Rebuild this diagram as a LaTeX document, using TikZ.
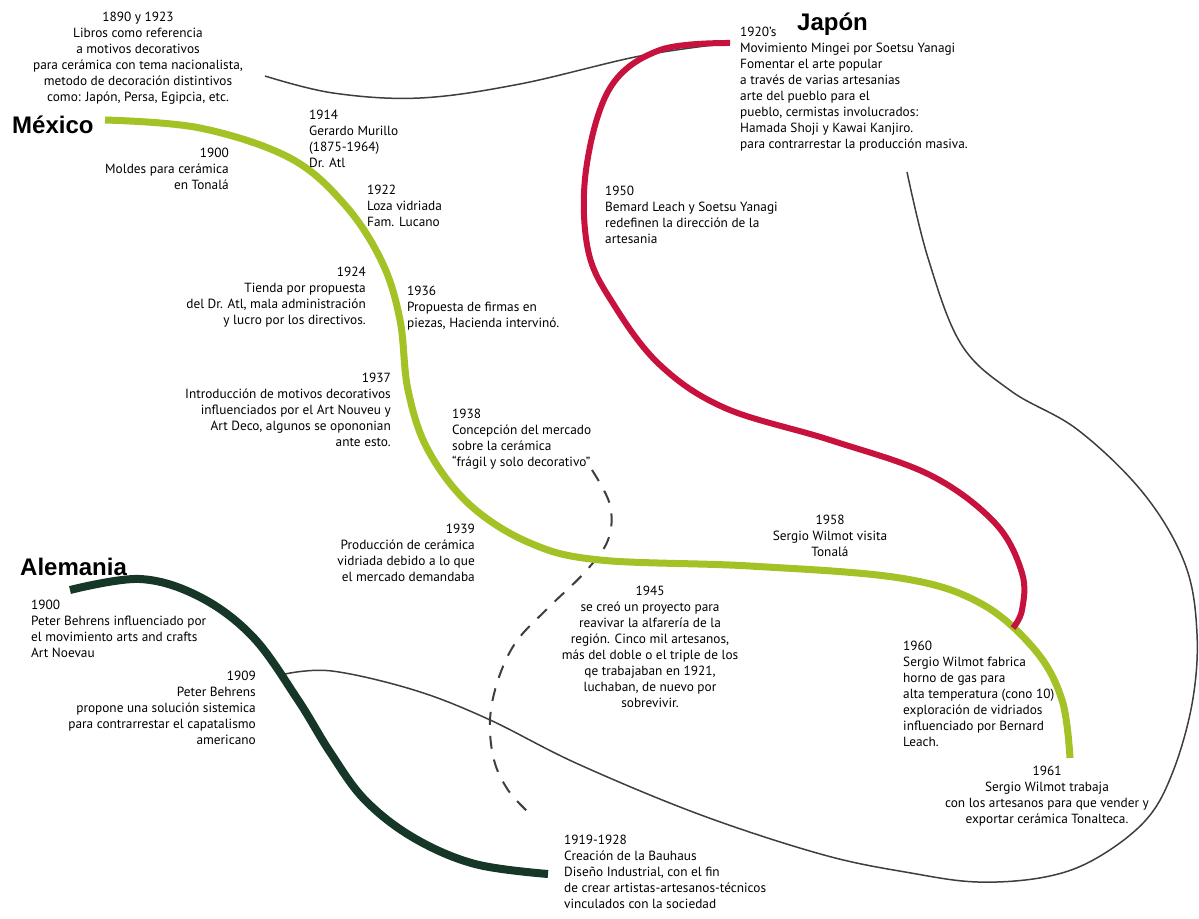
\documentclass[tikz,border=0pt]{standalone}
\usepackage{fontspec}
\setmainfont{PT Sans}
\newfontfamily\headfont{Liberation Sans}
\definecolor{mxgreen}{RGB}{162,194,38}
\definecolor{jpred}{RGB}{198,18,60}
\definecolor{degreen}{RGB}{22,54,40}
\definecolor{linkgray}{RGB}{62,62,62}

\begin{document}
\begin{tikzpicture}[x=1pt, y=-1pt,
  every node/.style={inner sep=0pt},
  ev/.style={font=\fontsize{13.3}{16}\selectfont, align=left},
  evr/.style={ev, align=right},
  evc/.style={ev, align=center},
  country/.style={font=\headfont\bfseries\fontsize{24}{26}\selectfont},
  mxline/.style={mxgreen, line width=7pt},
  jpline/.style={jpred, line width=6pt},
  deline/.style={degreen, line width=8pt},
  link/.style={linkgray, line width=1.5pt},
  linkdash/.style={linkgray, line width=2pt, dash pattern=on 13pt off 11pt},
]
\useasboundingbox (0,0) rectangle (1199,918);

% end points of the thin links
\coordinate (lkA) at (265,76);
\coordinate (jpstart) at (730,43);
\coordinate (lkB) at (907,172);
\coordinate (lkBend) at (285,674);
\coordinate (dsA) at (592,470);
\coordinate (dsB) at (528,812);

% thin links
\draw[link] plot[smooth, tension=0.6] coordinates {(lkA) (333,93) (420,98) (520,84) (640,56) (jpstart)};
\draw[link] plot[smooth, tension=0.6] coordinates {(lkB) (928,258) (961,344) (1011,391) (1078,430)
  (1144,494) (1185,564) (1197,634) (1192,704) (1172,774) (1145,821) (1095,859) (1045,877)
  (978,882) (911,873) (824,855) (701,815) (578,764) (488,719) (414,690) (332,671) (lkBend)};
\draw[linkdash] plot[smooth, tension=0.6] coordinates {(dsA) (610,505) (608,540) (585,572)
  (548,608) (516,642) (498,680) (490,720) (494,760) (508,790) (dsB)};

% timelines
\draw[mxline] plot[smooth, tension=0.6] coordinates {(105,120) (200,128) (290,158) (345,205)
  (382,262) (400,320) (408,390) (428,450) (470,505) (530,543) (600,560) (750,566) (900,578)
  (980,603) (1035,650) (1062,700) (1070,758)};
\draw[jpline] plot[smooth, tension=0.6] coordinates {(jpstart) (660,50) (610,88) (586,170)
  (588,250) (614,305) (660,365) (725,408) (830,440) (930,475) (995,523) (1022,573) (1022,610)
  (1013,628)};
\draw[deline] plot[smooth, tension=0.6] coordinates {(70,590) (140,579) (200,597) (253,637)
  (298,700) (330,752) (365,800) (414,838) (475,864) (548,874)};

% countries
\node[country, anchor=west] (mexico) at (12,125) {México};
\node[country, anchor=west] (japon) at (797,24) {Japón};
\node[country, anchor=west] (alemania) at (20,567) {Alemania};

% Mexico
\node[evc, anchor=north] (t1890) at (138,12) {1890 y 1923\\Libros como referencia\\a motivos decorativos\\para cerámica con tema nacionalista,\\metodo de decoración distintivos\\como: Japón, Persa, Egipcia, etc.};
\node[ev, anchor=north west] (t1914) at (309,110) {1914\\Gerardo Murillo\\(1875-1964)\\Dr. Atl};
\node[evr, anchor=north east] (t1900mx) at (229,148) {1900\\Moldes para cerámica\\en Tonalá};
\node[ev, anchor=north west] (t1922) at (367,185) {1922\\Loza vidriada\\Fam. Lucano};
\node[evr, anchor=north east] (t1924) at (366,267) {1924\\Tienda por propuesta\\del Dr. Atl, mala administración\\y lucro por los directivos.};
\node[ev, anchor=north west] (t1936) at (407,286) {1936\\Propuesta de firmas en\\piezas, Hacienda intervinó.};
\node[evr, anchor=north east] (t1937) at (391,373) {1937\\Introducción de motivos decorativos\\influenciados por el Art Nouveu y\\Art Deco, algunos se opononian\\ante esto.};
\node[ev, anchor=north west] (t1938) at (452,409) {1938\\Concepción del mercado\\sobre la cerámica\\“frágil y solo decorativo”};
\node[evr, anchor=north east] (t1939) at (475,524) {1939\\Producción de cerámica\\vidriada debido a lo que\\el mercado demandaba};
\node[evc, anchor=north] (t1945) at (650,586) {1945\\se creó un proyecto para\\reavivar la alfarería de la\\región. Cinco mil artesanos,\\más del doble o el triple de los\\qe trabajaban en 1921,\\luchaban, de nuevo por\\sobrevivir.};
\node[evc, anchor=north] (t1958) at (830,515) {1958\\Sergio Wilmot visita\\Tonalá};
\node[ev, anchor=north west] (t1960) at (903,641) {1960\\Sergio Wilmot fabrica\\horno de gas para\\alta temperatura (cono 10)\\exploración de vidriados\\influenciado por Bernard\\Leach.};
\node[evc, anchor=north] (t1961) at (1047,766) {1961\\Sergio Wilmot trabaja\\con los artesanos para que vender y\\exportar cerámica Tonalteca.};

% Japon
\node[ev, anchor=north west] (t1920) at (740,27) {1920's\\Movimiento Mingei por Soetsu Yanagi\\Fomentar el arte popular\\a través de varias artesanias\\arte del pueblo para el\\pueblo, cermistas involucrados:\\Hamada Shoji y Kawai Kanjiro.\\para contrarrestar la producción masiva.};
\node[ev, anchor=north west] (t1950) at (605,186) {1950\\Bemard Leach y Soetsu Yanagi\\redefinen la dirección de la\\artesania};

% Alemania
\node[ev, anchor=north west] (t1900al) at (31,600) {1900\\Peter Behrens influenciado por\\el movimiento arts and crafts\\Art Noevau};
\node[evr, anchor=north east] (t1909) at (256,671) {1909\\Peter Behrens\\propone una solución sistemica\\para contrarrestar el capatalismo\\americano};
\node[ev, anchor=north west] (t1919) at (564,835) {1919-1928\\Creación de la Bauhaus\\Diseño Industrial, con el fin\\de crear artistas-artesanos-técnicos\\vinculados con la sociedad};
\end{tikzpicture}
\end{document}
